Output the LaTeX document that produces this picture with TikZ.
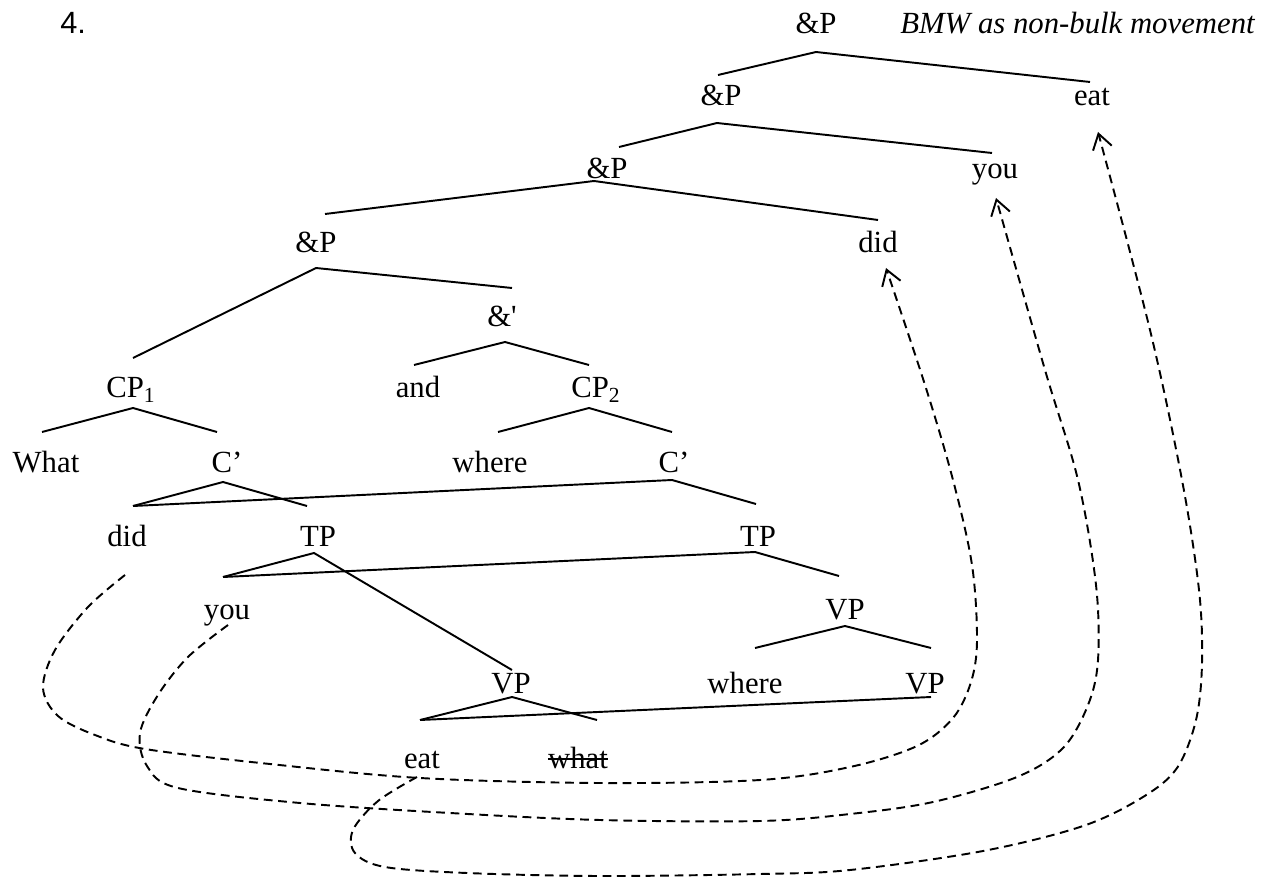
\documentclass[tikz,border=0pt]{standalone}
\usepackage{fontspec}
\newfontfamily\tnr{Liberation Serif}
\newfontfamily\arial{Liberation Sans}
\usetikzlibrary{arrows.meta,calc}
\begin{document}
\begin{tikzpicture}[x=0.02cm,y=-0.02cm,
  lbl/.style={inner sep=0pt,anchor=base,font=\tnr\fontsize{17.5}{21}\selectfont},
  br/.style={line width=1.1pt},
  mv/.style={line width=1.1pt,dash pattern=on 5pt off 3.2pt,
    -{Straight Barb[length=8.5pt,width=11pt]}}]
\useasboundingbox (0,0) rectangle (1267,881);

% ---- labels ----
\node[lbl,anchor=base west,font=\arial\fontsize{17.5}{21}\selectfont] (num) at (60,34) {4.};
\node[lbl] (P0) at (816,34) {\&P};
\node[lbl,anchor=base east,font=\tnr\itshape\fontsize{17.5}{21}\selectfont] (title) at (1255,34) {BMW as non-bulk movement};
\node[lbl] (P1) at (721,106) {\&P};
\node[lbl] (eatT) at (1092,106) {eat};
\node[lbl] (P2) at (607,179) {\&P};
\node[lbl] (youT) at (995,179) {you};
\node[lbl] (P3) at (316,253) {\&P};
\node[lbl] (didT) at (878,253) {did};
\node[lbl] (Amp) at (502,327) {\&'};
\node[lbl] (CPa) at (131,398) {CP\textsubscript{1}};
\node[lbl] (and) at (418,398) {and};
\node[lbl] (CPb) at (596,398) {CP\textsubscript{2}};
\node[lbl] (What) at (46,473) {What};
\node[lbl] (Ca) at (227,473) {C’};
\node[lbl] (whereA) at (490,473) {where};
\node[lbl] (Cb) at (674,473) {C’};
\node[lbl] (didB) at (127,546) {did};
\node[lbl] (TPa) at (318,546) {TP};
\node[lbl] (TPb) at (758,546) {TP};
\node[lbl] (youB) at (227,619) {you};
\node[lbl] (VPa) at (845,619) {VP};
\node[lbl] (VPb) at (511,693) {VP};
\node[lbl] (whereB) at (745,693) {where};
\node[lbl] (VPc) at (925,693) {VP};
\node[lbl] (eatB) at (422,768) {eat};
\node[lbl] (what) at (578,768) {what};
\draw[line width=0.9pt] ($(what.base west)+(0,-9)$) -- ($(what.base east)+(0,-9)$);

% ---- branch points ----
\coordinate (a0) at (816,52);  \coordinate (l0) at (718,75);  \coordinate (r0) at (1090,82);
\coordinate (a1) at (717,123); \coordinate (l1) at (619,147); \coordinate (r1) at (992,153);
\coordinate (a2) at (594,181); \coordinate (l2) at (325,214); \coordinate (r2) at (878,220);
\coordinate (a3) at (316,268); \coordinate (l3) at (133,358); \coordinate (r3) at (512,288);
\coordinate (a4) at (505,342); \coordinate (l4) at (414,365); \coordinate (r4) at (589,365);
\coordinate (a5) at (133,408); \coordinate (l5) at (42,432);  \coordinate (r5) at (217,432);
\coordinate (a6) at (589,408); \coordinate (l6) at (498,432); \coordinate (r6) at (672,432);
\coordinate (a7) at (223,482); \coordinate (l7) at (133,506); \coordinate (r7) at (307,506);
\coordinate (a8) at (672,480); \coordinate (r8) at (756,504);
\coordinate (a9) at (314,553); \coordinate (l9) at (223,577); \coordinate (r9) at (512,670);
\coordinate (a10) at (755,552); \coordinate (r10) at (839,576);
\coordinate (a11) at (845,626); \coordinate (l11) at (755,648); \coordinate (r11) at (931,648);
\coordinate (a12) at (512,697); \coordinate (l12) at (420,720); \coordinate (r12) at (597,720);
\coordinate (e12) at (931,697);

\draw[br] (l0) -- (a0) -- (r0);
\draw[br] (l1) -- (a1) -- (r1);
\draw[br] (l2) -- (a2) -- (r2);
\draw[br] (l3) -- (a3) -- (r3);
\draw[br] (l4) -- (a4) -- (r4);
\draw[br] (l5) -- (a5) -- (r5);
\draw[br] (l6) -- (a6) -- (r6);
\draw[br] (l7) -- (a7) -- (r7);
\draw[br] (l7) -- (a8) -- (r8);
\draw[br] (l9) -- (a9) -- (r9);
\draw[br] (l9) -- (a10) -- (r10);
\draw[br] (l11) -- (a11) -- (r11);
\draw[br] (l12) -- (a12) -- (r12);
\draw[br] (l12) -- (e12);

% ---- movement paths ----
\coordinate (sA) at (125,575); \coordinate (tA) at (886,268);
\coordinate (sB) at (228,625); \coordinate (tB) at (996,198);
\coordinate (sC) at (417,777); \coordinate (tC) at (1098,132);

\draw[mv] plot[smooth,tension=0.55] coordinates {(sA) (88,607) (55,650) (43,688) (58,716) (95,735) (145,749) (270,764) (420,778) (600,783) (760,780) (850,767) (917,746) (953,718) (971,682) (977,640) (972,565) (953,480) (925,385) (tA)};
\draw[mv] plot[smooth,tension=0.55] coordinates {(sB) (188,657) (158,695) (140,733) (147,766) (178,788) (300,803) (450,813) (600,820) (760,821) (850,814) (933,802) (1017,777) (1063,748) (1088,705) (1098,660) (1096,585) (1078,480) (1045,370) (tB)};
\draw[mv] plot[smooth,tension=0.55] coordinates {(sC) (378,801) (353,830) (355,853) (385,867) (467,873) (600,876) (760,874) (850,870) (983,851) (1083,826) (1143,797) (1177,768) (1196,720) (1202,663) (1199,590) (1182,480) (1150,330) (tC)};
\end{tikzpicture}
\end{document}
